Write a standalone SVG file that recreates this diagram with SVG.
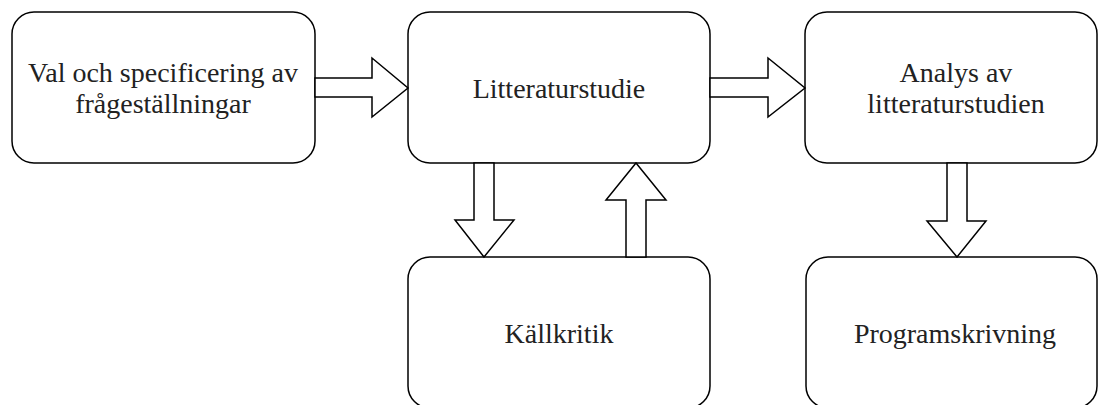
<svg xmlns="http://www.w3.org/2000/svg" width="1099" height="405" viewBox="0 0 1099 405">
<style>
.box{fill:#fff;stroke:#000;stroke-width:1.5}
.arr{fill:#fff;stroke:#000;stroke-width:1.5;stroke-linejoin:miter}
.t{font-family:"Liberation Serif","Times New Roman",serif;font-size:28px;fill:#222;text-anchor:middle}
</style>
<rect width="1099" height="405" fill="#fff"/>
<g id="n1"><rect class="box" x="12" y="12" width="303" height="151" rx="22"/><text class="t" x="163" y="82">Val och specificering av</text><text class="t" x="163" y="113">frågeställningar</text></g>
<g id="n2"><rect class="box" x="408" y="12" width="302" height="151" rx="22"/><text class="t" x="559" y="98">Litteraturstudie</text></g>
<g id="n3"><rect class="box" x="805" y="12" width="292" height="151" rx="22"/><text class="t" x="956" y="82">Analys av</text><text class="t" x="956" y="113">litteraturstudien</text></g>
<g id="n4"><rect class="box" x="408" y="257" width="302" height="151" rx="22"/><text class="t" x="559" y="343">Källkritik</text></g>
<g id="n5"><rect class="box" x="806" y="257" width="291" height="151" rx="22"/><text class="t" x="955" y="343">Programskrivning</text></g>
<g id="connectors">
<polygon class="arr" points="315,78 372,78 372,58 408,88 372,117 372,97 315,97"/>
<polygon class="arr" points="710,78 768,78 768,58 805,88 768,117 768,97 710,97"/>
<polygon class="arr" points="474,163 494,163 494,220 514,220 484,257 455,220 474,220"/>
<polygon class="arr" points="626,257 646,257 646,200 666,200 636,163 606,200 626,200"/>
<polygon class="arr" points="947,163 967,163 967,221 986,221 957,257 927,221 947,221"/>
</g>
</svg>
